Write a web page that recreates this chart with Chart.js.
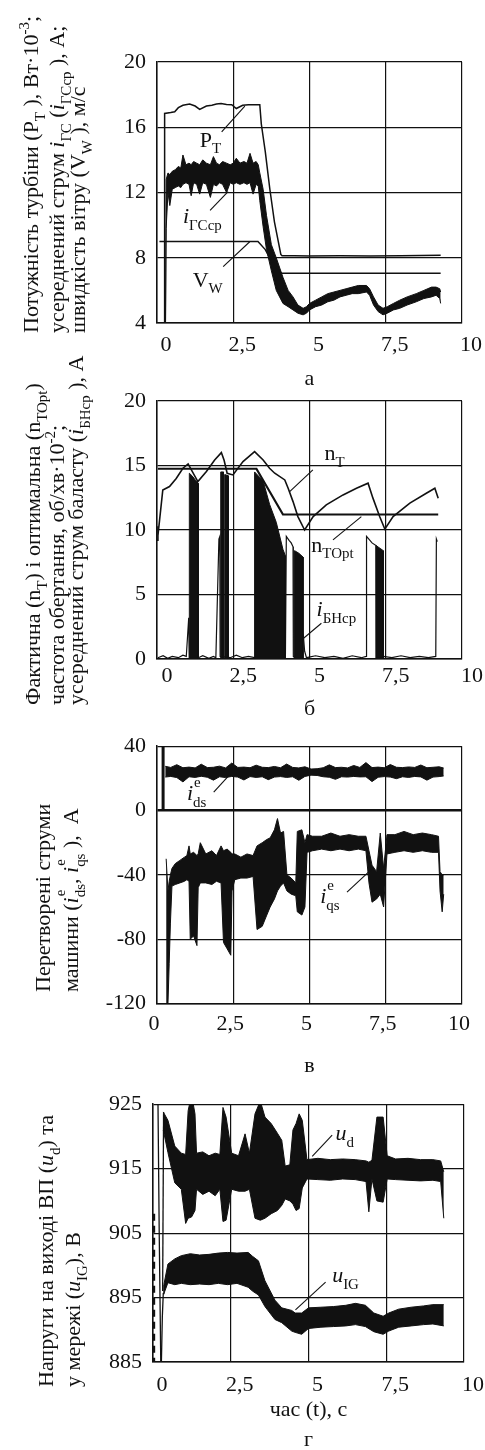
<!DOCTYPE html>
<html>
<head>
<meta charset="utf-8">
<script src="https://cdn.jsdelivr.net/npm/chart.js@4.4.1/dist/chart.umd.min.js"></script>
<style>
html, body { margin: 0; padding: 0; background: #fff; overflow: hidden; width: 485px; height: 1450px; }
canvas.p { position: absolute; left: 0; }
</style>
</head>
<body>
<canvas id="pa" class="p"></canvas>
<canvas id="pb" class="p"></canvas>
<canvas id="pc" class="p"></canvas>
<canvas id="pd" class="p"></canvas>
<script>
// ---- panel а: turbine power, averaged current, wind speed
const ptX = [0.25,0.25,0.45,0.58,0.70,0.85,1.07,1.25,1.40,1.62, 1.80,1.95,2.10,2.28,2.45,2.60,2.81,3.00,3.37,3.42, 3.55,3.70,3.85,4.06,4.10,4.50,5.00,6.00,7.00,8.00, 9.30];
const ptY = [4.0,16.85,16.9,16.95,17.2,17.35,17.42,17.3,17.1,17.3, 17.35,17.42,17.45,17.4,17.38,17.15,17.35,17.38,17.38,16.2, 14.5,12.2,10.2,8.2,8.12,8.12,8.1,8.12,8.1,8.12, 8.15];
const vwX = [0.08,3.31,3.55,3.78,4.08,9.30];
const vwY = [9.0,9.0,8.5,7.7,7.05,7.05];
const gcX = [0.28,0.30,0.36,0.42,0.50,0.60,0.70,0.78,0.85,0.95, 1.05,1.12,1.20,1.30,1.40,1.50,1.62,1.75,1.85,1.95, 2.05,2.15,2.28,2.40,2.50,2.60,2.72,2.85,2.95,3.05, 3.15,3.25,3.32,3.37,3.48,3.59,3.75,3.91,4.13,4.30, 4.46,4.62,4.79,4.90,5.00,5.20,5.40,5.60,5.80,6.00, 6.20,6.40,6.60,6.87,6.97,7.10,7.25,7.41,7.55,7.75, 7.96,8.20,8.50,8.75,9.00,9.15,9.27,9.30];
const gcHi = [4.0,12.8,13.2,13.1,13.3,13.4,13.6,13.5,14.3,13.7, 13.8,13.7,13.9,13.8,13.7,14.0,13.8,13.7,14.2,13.8, 13.7,13.9,13.8,13.7,13.8,14.1,13.8,13.9,13.8,14.4, 13.8,13.9,13.7,13.2,12.2,10.6,8.8,8.0,6.8,6.0, 5.6,5.1,4.9,5.0,5.2,5.4,5.6,5.8,5.9,6.0, 6.1,6.2,6.3,6.3,6.1,5.6,5.1,4.9,5.0,5.2, 5.4,5.6,5.8,6.0,6.2,6.2,6.1,5.9];
const gcLo = [4.0,9.8,12.0,11.2,12.2,12.3,12.4,12.3,12.5,12.6, 12.5,11.8,12.6,12.5,11.9,12.6,12.5,11.7,12.5,12.4, 12.6,12.5,12.0,12.6,12.5,12.6,12.5,12.6,12.5,12.6, 11.9,12.5,12.4,11.5,9.9,8.5,7.2,6.0,5.2,5.0, 4.8,4.6,4.5,4.6,4.8,5.0,5.1,5.3,5.4,5.6, 5.7,5.8,5.8,5.9,5.7,5.1,4.7,4.5,4.6,4.8, 4.9,5.1,5.3,5.5,5.6,5.7,5.5,5.2];

// ---- panel б: actual / optimal speed, ballast current
const ntX = [0.00,0.03,0.05,0.19,0.41,0.63,0.85,1.02,1.34,1.62, 1.89,2.11,2.20,2.30,2.49,2.82,3.20,3.48,3.69,3.86, 4.19,4.30,4.46,4.62,4.84,5.12,5.55,6.10,6.54,6.92, 7.08,7.30,7.47,7.74,8.29,8.83,9.11,9.22];
const ntY = [9.2,10.3,10.0,13.1,13.37,14.0,14.79,15.12,13.75,14.53, 15.43,16.0,15.4,14.4,14.27,15.3,16.07,15.43,14.79,14.4, 13.88,13.24,12.2,11.04,10.0,11.04,11.95,12.72,13.24,13.63, 12.47,11.04,10.07,11.04,12.08,12.85,13.24,12.47];
const ntoX = [0.03,3.26,4.13,9.22];
const ntoY = [14.75,14.75,11.2,11.2];
const bnX = [0.03,0.20,0.35,0.50,0.70,0.85,0.96,1.04,1.06,1.36, 1.50,1.70,1.85,1.93,2.03,2.06,2.07,2.40,2.60,2.80, 3.00,3.20,4.21,4.24,4.33,4.40,4.46,4.47,4.51,4.80, 4.84,4.90,5.20,5.50,5.80,6.10,6.40,6.70,6.86,6.87, 7.05,7.18,7.19,7.42,7.70,8.00,8.30,8.60,8.90,9.14, 9.16,9.19];
const bnY = [0.1,0.25,0.05,0.2,0.1,0.3,0.2,3.2,0.1,0.1, 0.25,0.05,0.2,0.1,9.3,9.5,0.2,0.1,0.3,0.1, 0.2,0.1,0.1,9.5,9.2,9.0,8.7,0.2,0.1,1.8, 0.6,0.1,0.25,0.1,0.2,0.05,0.25,0.1,0.2,9.5, 9.0,8.8,0.1,0.2,0.1,0.25,0.1,0.2,0.1,0.2, 9.3,9.1];
const bkX = [1.06,1.06,1.15,1.25,1.36,1.36, 2.09,2.09,2.18,2.18, 2.22,2.22,2.34,2.34, 3.20,3.20,3.48,3.69,3.91,4.13,4.21,4.21, 4.51,4.51,4.65,4.79,4.79, 7.18,7.18,7.42,7.42];
const bkY = [0,14.4,14.2,13.9,13.6,0, 0,14.5,14.5,0, 0,14.3,14.2,0, 0,14.5,13.8,12.0,10.6,8.5,8.0,0, 0,8.4,8.2,7.9,0, 0,8.8,8.4,0];

// ---- panel в: transformed machine currents
const idsStartX = [0.20,0.20];
const idsStartY = [0,40];
const idsX = [0.27,0.45,0.65,0.85,1.05,1.25,1.45,1.65,1.85,2.05, 2.25,2.45,2.65,2.85,3.05,3.25,3.45,3.65,3.85,4.05, 4.25,4.45,4.65,4.85,5.05,5.25,5.45,5.65,5.85,6.05, 6.25,6.45,6.65,6.85,7.05,7.25,7.45,7.65,7.85,8.05, 8.25,8.45,8.65,8.85,9.05,9.25,9.40];
const idsHi = [27.5,26.8,28.5,26.6,27.0,26.5,28.8,26.7,26.9,27.6, 26.5,29.5,26.8,27.0,26.6,28.2,26.9,26.7,27.4,26.6, 28.9,26.8,26.5,27.2,25.8,26.0,26.6,28.4,26.7,26.9, 26.5,28.0,26.8,29.8,26.7,27.0,26.6,28.6,26.9,26.7, 27.1,26.8,28.3,26.6,26.9,27.2,26.4];
const idsLo = [20.8,21.2,20.5,17.8,21.0,20.6,21.3,20.7,18.9,21.0, 20.5,21.2,20.8,19.0,21.1,20.6,21.0,19.2,20.8,21.1, 20.6,21.0,18.8,21.2,22.0,21.8,21.0,20.7,19.4,21.0, 20.8,21.2,20.9,21.0,18.0,20.7,21.1,20.8,19.8,21.0, 20.6,21.2,20.9,18.9,20.8,21.1,21.5];
const qsX = [0.30,0.36,0.40,0.44,0.49,0.60,0.75,0.90,0.98,1.05, 1.09,1.20,1.31,1.35,1.42,1.60,1.80,1.95,2.10,2.18, 2.30,2.42,2.46,2.55,2.75,2.95,3.15,3.28,3.45,3.60, 3.71,3.85,3.95,4.05,4.15,4.26,4.40,4.55,4.60,4.75, 4.85,4.92,5.10,5.40,5.70,6.00,6.30,6.60,6.85,6.95, 7.05,7.20,7.32,7.43,7.54,7.80,8.10,8.40,8.70,9.00, 9.23,9.28,9.35,9.40];
const qsHi = [-30,-50,-44,-40,-36,-33,-31,-29,-28,-22, -27,-26,-28,-27,-20,-27,-25,-28,-22,-25, -24,-26,-27,-27,-29,-27,-28,-22,-20,-18, -17,-12,-5,-14,-13,-40,-42,-45,-13,-12, -20,-15,-16,-16,-14,-16,-15,-16,-16,-25, -34,-38,-14,-36,-15,-15,-13,-15,-14,-15, -16,-38,-40,-40];
const qsLo = [-120,-120,-95,-70,-47,-46,-45,-44,-43,-44, -80,-78,-84,-48,-45,-45,-46,-44,-45,-82, -86,-90,-50,-43,-42,-42,-41,-74,-72,-65, -60,-55,-50,-47,-45,-50,-52,-53,-63,-65, -60,-26,-25,-24,-25,-24,-25,-24,-25,-45, -57,-55,-52,-60,-27,-26,-25,-26,-25,-26, -26,-50,-63,-52];

// ---- panel г: converter output and grid voltages
const edgeX = [0.03,0.03];
const edgeY = [908,885];
const trAX = [0.16,0.20,0.25];
const trAY = [925.3,905,885];
const trBX = [0.27,0.30,0.33,0.35];
const trBY = [885,892,895.6,897];
const trCX = [0.31,0.34];
const trCY = [896,923.8];
const udX = [0.33,0.48,0.70,0.91,1.05,1.13,1.24,1.35,1.40,1.60, 1.80,2.00,2.15,2.25,2.35,2.53,2.75,2.96,3.10,3.28, 3.45,3.60,3.80,4.00,4.14,4.25,4.40,4.50,4.60,4.70, 4.80,4.95,5.30,5.70,6.10,6.50,6.85,6.94,7.04,7.20, 7.40,7.53,7.80,8.20,8.60,9.00,9.25,9.35];
const udHi = [923.8,922.5,918.5,917.4,917.2,924.0,926.5,923.5,917.4,917.6, 917.0,917.4,917.2,924.5,923.0,917.4,917.0,920.4,917.4,923.5, 925.5,923.0,922.0,920.5,919.4,915.4,915.6,921.0,922.0,923.5, 922.5,916.4,916.6,916.4,916.5,916.4,916.2,916.0,916.3,923.0, 923.0,917.0,916.5,916.6,916.4,916.4,916.2,914.5];
const udLo = [921.0,917.5,912.8,911.8,906.5,907.3,907.5,908.5,911.8,911.0, 911.5,910.8,911.8,906.8,907.0,911.8,911.5,911.5,911.8,907.3, 907.0,907.3,908.0,908.5,909.3,910.3,910.0,909.5,908.5,908.8, 912.0,913.4,913.3,913.2,913.4,913.3,913.0,908.3,913.4,910.0, 909.8,913.4,913.3,913.2,913.1,913.2,913.0,907.3];
const igX = [0.35,0.48,0.70,0.91,1.20,1.50,1.80,2.10,2.40,2.70, 3.06,3.20,3.39,3.60,3.92,4.14,4.46,4.57,4.78,5.00, 5.40,5.80,6.20,6.51,6.83,7.10,7.40,7.58,7.90,8.30, 8.70,9.00,9.35];
const igHi = [897.0,900.2,901.0,901.5,901.8,901.6,901.7,901.9,902.0,901.9, 902.0,901.4,900.7,897.6,894.6,893.4,893.0,892.6,892.6,893.4, 893.5,893.6,893.8,894.1,893.8,892.6,892.1,892.6,893.2,893.5, 893.7,893.9,893.9];
const igLo = [895.6,897.3,897.0,897.2,897.0,897.1,897.0,897.2,897.0,897.2, 896.6,896.0,895.4,893.6,891.6,891.1,889.8,889.6,889.3,890.2, 890.4,890.5,890.6,890.8,890.5,889.7,889.3,889.8,890.4,890.6, 890.8,890.9,890.6];

const INK = '#111';
const FONT = '"Liberation Serif", "Times New Roman", serif';
Chart.defaults.font.family = FONT;
Chart.defaults.font.size = 22;
Chart.defaults.color = INK;

function pts(xs, ys) { return xs.map((x, i) => ({x: x, y: ys[i]})); }
function line(xs, ys, w, more) {
  return Object.assign({data: pts(xs, ys), borderColor: INK, borderWidth: w, pointRadius: 0, fill: false}, more || {});
}
function band(xs, hi, lo) {
  return [
    {data: pts(xs, hi), borderColor: INK, backgroundColor: INK, borderWidth: 1, pointRadius: 0, fill: '+1'},
    {data: pts(xs, lo), borderColor: INK, borderWidth: 1, pointRadius: 0, fill: false}
  ];
}

// text with sub/superscripts; part = [text, kind]
function rich(ctx, x, y, parts, size) {
  let cx = x;
  for (const [t, k] of parts) {
    if (k === 'st') {
      const s = size * 0.68;
      ctx.font = s + 'px ' + FONT;
      const w = Math.max(ctx.measureText(t[0]).width, ctx.measureText(t[1]).width);
      ctx.fillText(t[0], cx + 1, y - size * 0.6);
      ctx.fillText(t[1], cx, y + size * 0.3);
      cx += w;
      continue;
    }
    const small = k === 'sub' || k === 'sup';
    ctx.font = (k === 'it' ? 'italic ' : '') + (small ? size * 0.68 : size) + 'px ' + FONT;
    const dy = k === 'sub' ? size * 0.3 : k === 'sup' ? -size * 0.42 : 0;
    ctx.fillText(t, cx, y + dy);
    cx += ctx.measureText(t).width;
  }
}

function notesPlugin(notes, title) {
  return {
    id: 'notes',
    afterDatasetsDraw(chart) {
      const {ctx} = chart;
      const x = chart.scales.x, y = chart.scales.y;
      ctx.save();
      ctx.fillStyle = INK;
      ctx.strokeStyle = INK;
      ctx.lineWidth = 1.1;
      ctx.textAlign = 'left';
      ctx.textBaseline = 'alphabetic';
      notes.forEach(n => {
        ctx.beginPath();
        ctx.moveTo(x.getPixelForValue(n.from[0]), y.getPixelForValue(n.from[1]));
        ctx.lineTo(x.getPixelForValue(n.to[0]), y.getPixelForValue(n.to[1]));
        ctx.stroke();
        rich(ctx, x.getPixelForValue(n.at[0]), y.getPixelForValue(n.at[1]), n.parts, 22);
      });
      // rotated y axis title
      title.lines.forEach(ln => {
        ctx.save();
        ctx.translate(ln.x, title.start);
        ctx.rotate(-Math.PI / 2);
        rich(ctx, 0, 0, ln.parts, 22);
        ctx.restore();
      });
      ctx.restore();
    }
  };
}

function makePanel(id, p) {
  const cv = document.getElementById(id);
  cv.width = 485;
  cv.height = p.h;
  cv.style.top = p.top + 'px';
  return new Chart(cv, {
    type: 'line',
    data: {datasets: p.datasets},
    options: {
      responsive: false,
      animation: false,
      devicePixelRatio: 1,
      events: [],
      layout: {padding: {left: 0, top: p.plot.t - p.top, right: 485 - p.plot.r, bottom: 0}},
      plugins: {legend: {display: false}, tooltip: {enabled: false}},
      scales: {
        x: {
          type: 'linear', min: 0, max: 10,
          afterFit: s => { s.height = p.top + p.h - p.plot.b; },
          ticks: {stepSize: 2.5, padding: p.xPad, labelOffset: p.xOff, maxRotation: 0, autoSkip: false,
                  callback: v => String(v).replace('.', ',')},
          grid: {color: INK, lineWidth: 1.2, drawTicks: false},
          border: {color: INK, width: 1.5},
          title: {display: true, text: p.xTitle, padding: {top: 0, bottom: p.xTitlePad},
                  font: {size: 22, lineHeight: p.xTitleLH || 1.2}}
        },
        y: {
          min: p.y[0], max: p.y[1],
          afterFit: s => { s.width = p.plot.l; },
          ticks: {stepSize: p.y[2], padding: 11},
          grid: {color: INK, lineWidth: p.yLW || 1.2, drawTicks: false},
          border: {color: INK, width: 1.5}
        }
      }
    },
    plugins: [notesPlugin(p.notes, p.title)]
  });
}

makePanel('pa', {
  top: 0, h: 392, plot: {l: 157, t: 62, r: 462, b: 323},
  y: [4, 20, 4], xPad: 9, xOff: 9, xTitle: 'а', xTitlePad: 0,
  datasets: [line(ptX, ptY, 1.5), line(vwX, vwY, 1.5)].concat(band(gcX, gcHi, gcLo)),
  notes: [
    {at: [1.40, 14.8], from: [2.12, 15.71], to: [2.88, 17.3], parts: [['P'], ['T', 'sub']]},
    {at: [0.85, 10.13], from: [1.74, 10.9], to: [2.33, 12.05], parts: [['i', 'it'], ['ГСср', 'sub']]},
    {at: [1.17, 6.22], from: [2.17, 7.45], to: [3.04, 8.98], parts: [['V'], ['W', 'sub']]}
  ],
  title: {start: 333, lines: [
    {x: 38, parts: [['Потужність турбіни (P'], ['T', 'sub'], [' ), Вт·10'], ['-3', 'sup'], [';']]},
    {x: 64, parts: [['усереднений струм '], ['i', 'it'], ['ГС', 'sub'], [' ('], ['i', 'it'], ['ГСср', 'sub'], [' ), А;']]},
    {x: 85, parts: [['швидкість вітру (V'], ['W', 'sub'], [' ), м/с']]}
  ]}
});

makePanel('pb', {
  top: 335, h: 387, plot: {l: 157, t: 401, r: 462, b: 659},
  y: [0, 20, 5], xPad: 4, xOff: 10, xTitle: 'б', xTitlePad: 0,
  datasets: [
    line(ntX, ntY, 1.6),
    line(ntoX, ntoY, 2.2),
    line(bkX, bkY, 1, {fill: 'origin', backgroundColor: INK}),
    line(bnX, bnY, 1.2)
  ],
  notes: [
    {at: [5.49, 15.43], from: [5.11, 14.66], to: [4.35, 12.98], parts: [['n'], ['T', 'sub']]},
    {at: [5.06, 8.33], from: [5.77, 9.24], to: [6.70, 11.04], parts: [['n'], ['TOpt', 'sub']]},
    {at: [5.23, 3.3], from: [5.39, 2.77], to: [4.68, 1.36], parts: [['i', 'it'], ['БНср', 'sub']]}
  ],
  title: {start: 370, lines: [
    {x: 40, parts: [['Фактична (n'], ['T', 'sub'], [') і оптимальна (n'], ['TOpt', 'sub'], [')']]},
    {x: 64, parts: [['частота обертання, об/хв·10'], ['-2', 'sup'], [';']]},
    {x: 83, parts: [['усереднений струм баласту ('], ['i', 'it'], ['БНср', 'sub'], [' ), А']]}
  ]}
});

makePanel('pc', {
  top: 722, h: 358, plot: {l: 157, t: 743, r: 462, b: 1003.5},
  y: [-120, 40, 40], xPad: 8, xOff: -3, xTitle: 'в', xTitlePad: 1,
  yLW: c => (c.tick && c.tick.value === 0 ? 2.6 : 1.2),
  datasets: [line(idsStartX, idsStartY, 3)].concat(band(idsX, idsHi, idsLo), band(qsX, qsHi, qsLo)),
  notes: [
    {at: [0.98, 6.4], from: [1.86, 11.45], to: [2.40, 22.6], parts: [['i', 'it'], [['e', 'ds'], 'st']]},
    {at: [5.35, -57.8], from: [6.23, -50.7], to: [7.10, -35.4], parts: [['i', 'it'], [['e', 'qs'], 'st']]}
  ],
  title: {start: 270, lines: [
    {x: 50, parts: [['Перетворені струми']]},
    {x: 78, parts: [['машини ('], ['i', 'it'], [['e', 'ds'], 'st'], [', '], ['i', 'it'], [['e', 'qs'], 'st'], [' ),  A']]}
  ]}
});

makePanel('pd', {
  top: 1080, h: 380, plot: {l: 153, t: 1098, r: 464, b: 1362},
  y: [885, 925, 10], xPad: 10, xOff: 9, xTitle: ['час (t), с', 'г'], xTitlePad: 4, xTitleLH: 1.4,
  datasets: [
    line(edgeX, edgeY, 2.5, {borderDash: [7, 5]}),
    line(trAX, trAY, 1.3),
    line(trBX, trBY, 1.3),
    line(trCX, trCY, 1.3)
  ].concat(band(udX, udHi, udLo), band(igX, igHi, igLo)),
  notes: [
    {at: [5.87, 919.4], from: [5.76, 920.2], to: [5.12, 916.9], parts: [['u', 'it'], ['d', 'sub']]},
    {at: [5.76, 897.4], from: [5.55, 897.4], to: [4.58, 893.1], parts: [['u', 'it'], ['IG', 'sub']]}
  ],
  title: {start: 307, lines: [
    {x: 53, parts: [['Напруги на виході ВП ('], ['u', 'it'], ['d', 'sub'], [') та']]},
    {x: 80, parts: [['у мережі ('], ['u', 'it'], ['IG', 'sub'], ['), В']]}
  ]}
});
</script>
</body>
</html>
